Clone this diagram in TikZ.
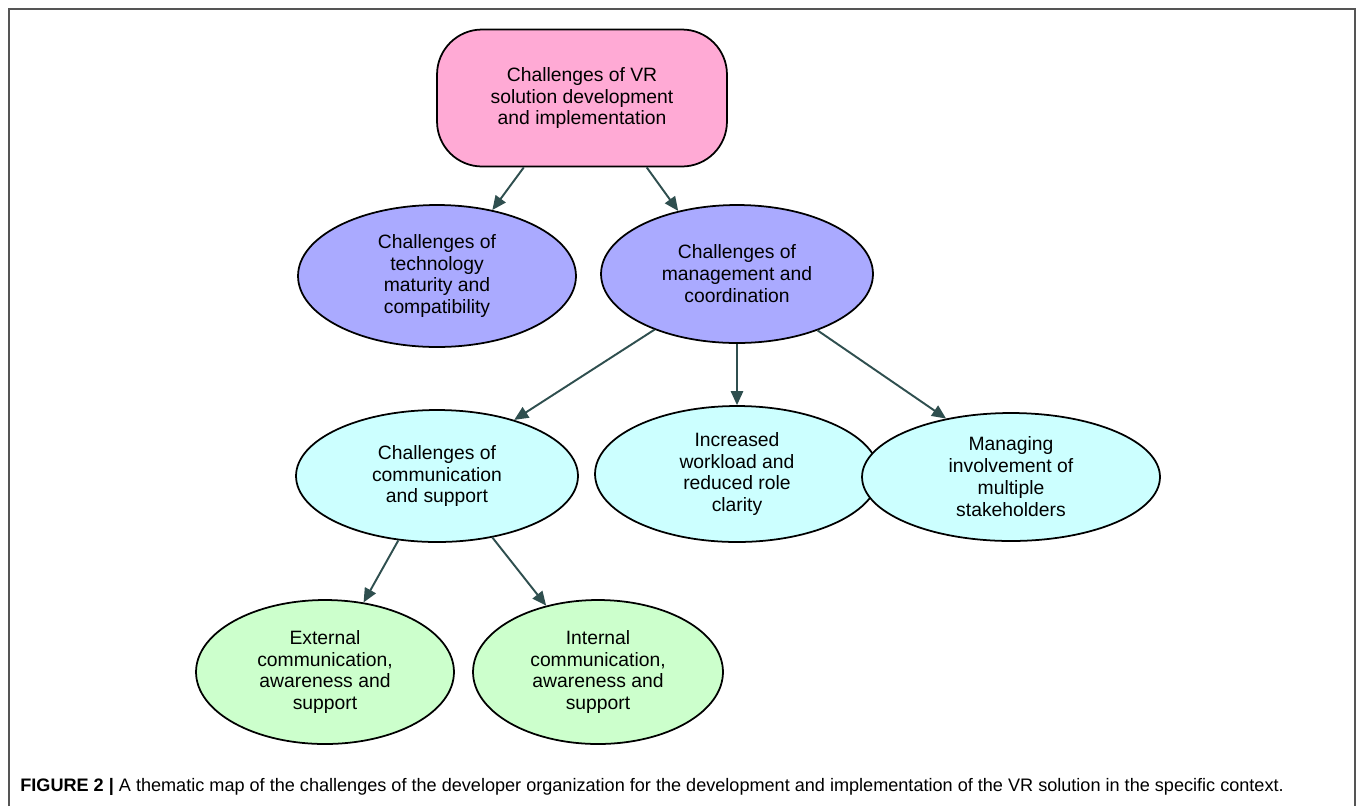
\documentclass[tikz,border=0pt]{standalone}
\usepackage{fontspec}
\setmainfont{Liberation Sans}
\usetikzlibrary{shapes.geometric,arrows.meta}

\definecolor{rootpink}{HTML}{FFAAD5}
\definecolor{levelone}{HTML}{AAAAFF}
\definecolor{leveltwo}{HTML}{CCFFFF}
\definecolor{levelthree}{HTML}{CCFFCC}
\definecolor{linkgrey}{HTML}{2F4F4F}
\definecolor{framegrey}{HTML}{555555}

\begin{document}
\begin{tikzpicture}[x=0.02cm, y=-0.02cm,
  every node/.style={font=\fontsize{11}{12.5}\selectfont, align=center, inner sep=0pt},
  oval/.style={ellipse, draw=black, line width=1pt},
  link/.style={draw=linkgrey, line width=1.1pt, -{Triangle[length=8pt,width=7pt]}}]

\useasboundingbox (0,0) rectangle (1358,806);
\draw[framegrey, line width=1.2pt] (9,806) -- (9,9) -- (1355,9) -- (1355,806);

% top of the map
\node[draw=black, line width=1pt, fill=rootpink, rounded corners=0.9cm,
      minimum width=5.8cm, minimum height=2.74cm] (root) at (582,98)
      {Challenges of VR\\solution development\\and implementation};

% first level
\node[oval, fill=levelone, minimum width=5.56cm, minimum height=2.84cm] (tech) at (437,276)
      {Challenges of\\technology\\maturity and\\compatibility};
\node[oval, fill=levelone, minimum width=5.44cm, minimum height=2.76cm] (mgmt) at (737,274)
      {Challenges of\\management and\\coordination};

% second level
\node[oval, fill=leveltwo, minimum width=5.64cm, minimum height=2.64cm] (comm) at (437,476)
      {Challenges of\\communication\\and support};
\node[oval, fill=leveltwo, minimum width=5.68cm, minimum height=2.72cm] (work) at (737,474)
      {Increased\\workload and\\reduced role\\clarity};
\node[oval, fill=leveltwo, minimum width=5.96cm, minimum height=2.56cm] (stake) at (1011,477)
      {Managing\\involvement of\\multiple\\stakeholders};

% third level
\node[oval, fill=levelthree, minimum width=5.16cm, minimum height=2.88cm] (ext) at (325,672)
      {External\\communication,\\awareness and\\support};
\node[oval, fill=levelthree, minimum width=5.0cm, minimum height=2.88cm] (int) at (598,672)
      {Internal\\communication,\\awareness and\\support};

\draw[link] (root.230) -- (tech.50);
\draw[link] (root.313) -- (mgmt.133);
\draw[link] (mgmt.214) -- (comm.36);
\draw[link] (mgmt.south) -- (work.north);
\draw[link] (mgmt.325) -- (stake.138);
\draw[link] (comm.239) -- (ext.61);
\draw[link] (comm.312) -- (int.128);

\node[anchor=base west, font=\fontsize{10.3}{12}\selectfont] (caption) at (20,791)
      {\textbf{FIGURE 2 \textbar} A thematic map of the challenges of the developer organization for the development and implementation of the VR solution in the specific context.};

\end{tikzpicture}
\end{document}
